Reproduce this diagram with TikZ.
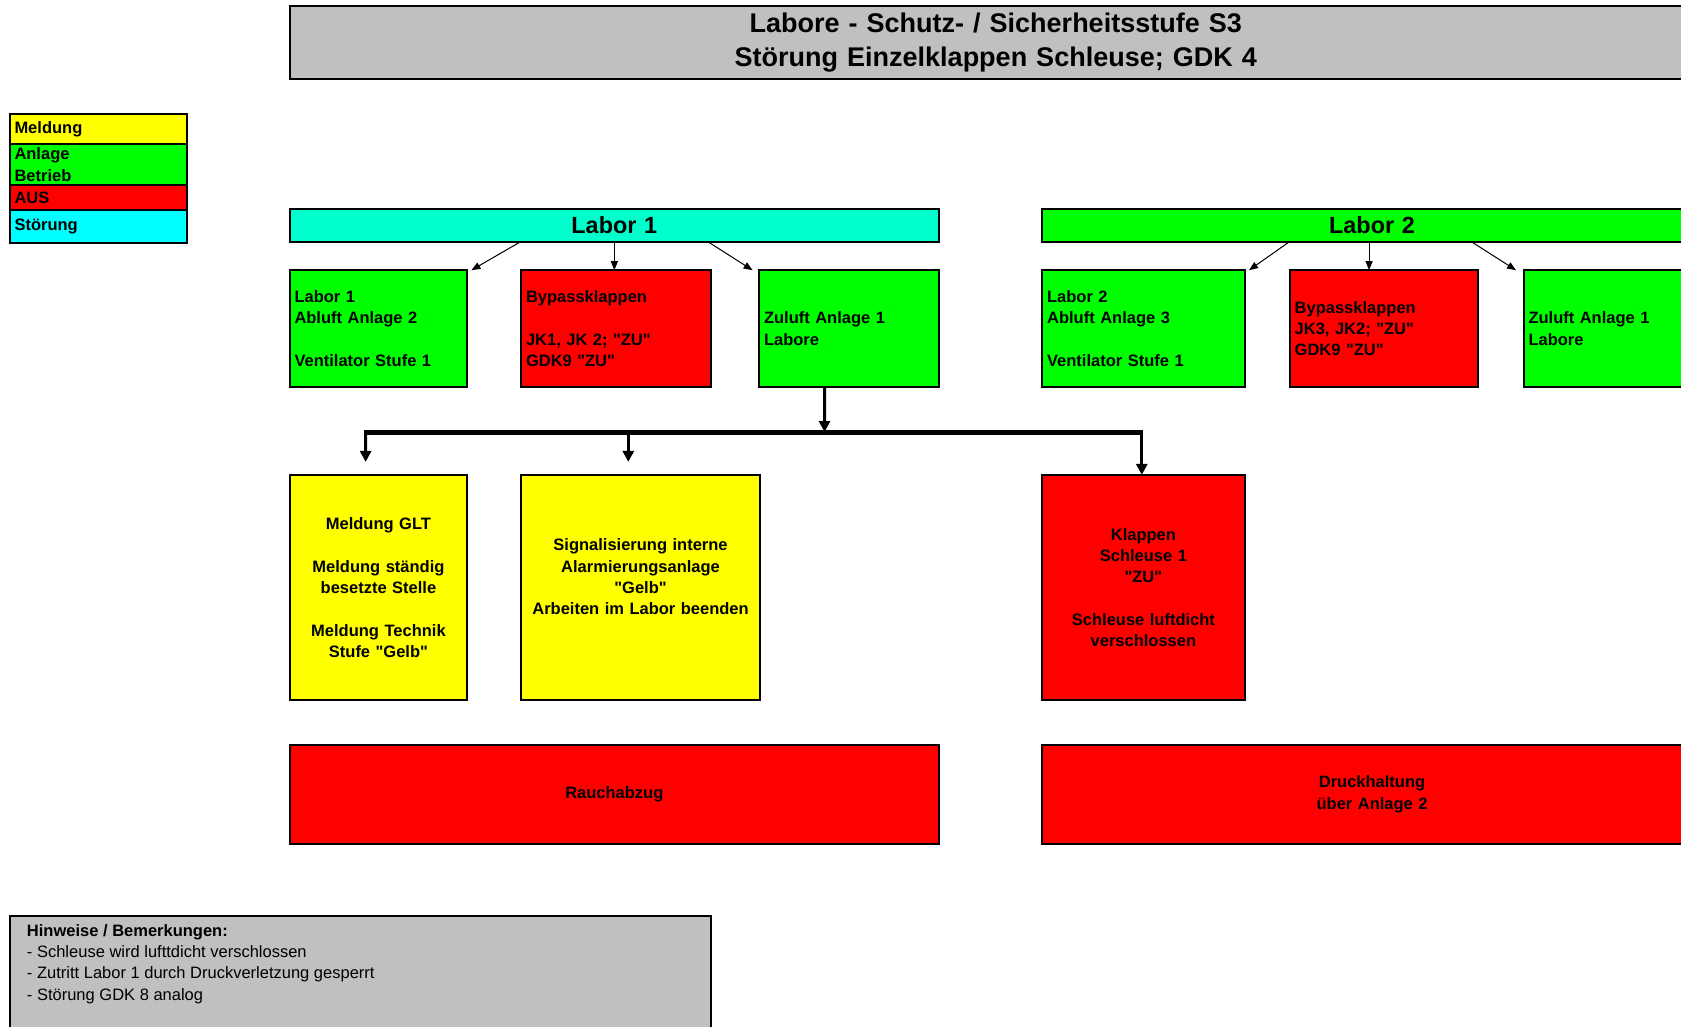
\documentclass[tikz,border=0pt]{standalone}
\usepackage{fontspec}
\setmainfont{Liberation Sans}
\newfontfamily\lsans{Liberation Sans}
\usetikzlibrary{arrows.meta}
\definecolor{cgray}{HTML}{C0C0C0}
\definecolor{cgreen}{HTML}{00FF00}
\definecolor{cred}{HTML}{FF0000}
\definecolor{cyel}{HTML}{FFFF00}
\definecolor{ccyan}{HTML}{00FFFF}
\definecolor{caqua}{HTML}{00FFCC}
\newcommand\fsn{\lsans\fontsize{16.5}{21.3}\selectfont}
% name, x1, y1, x2, y2, style, align, text
\newcommand\mkbox[8]{%
  \pgfmathsetmacro\mybw{#4-#2}%
  \pgfmathsetmacro\mybh{#5-#3}%
  \pgfmathsetmacro\mytw{#4-#2-10}%
  \node[#6, minimum width=\mybw pt, minimum height=\mybh pt, text width=\mytw pt,
        align=#7, inner xsep=5pt, inner ysep=0pt] (#1) at ({(#2+#4)/2},{(#3+#5)/2}) {#8};}
\begin{document}
\begin{tikzpicture}[x=1pt,y=-1pt,
  bxs/.style={draw=black, line width=2pt, font=\fsn\bfseries, text=black, outer sep=0pt},
  fy/.style={bxs, fill=cyel},
  fg/.style={bxs, fill=cgreen},
  fr/.style={bxs, fill=cred},
  fc/.style={bxs, fill=ccyan},
  fa/.style={bxs, fill=caqua},
  fgray/.style={bxs, fill=cgray},
  thinar/.style={line width=1pt, -{Triangle[length=9pt,width=7pt]}},
  thickar/.style={line width=3pt, -{Triangle[length=11pt,width=11pt]}},
  busline/.style={line width=5pt}]
\useasboundingbox (0,0) rectangle (1681,1027);
\clip (0,0) rectangle (1681,1027);

% title
\mkbox{title}{289.5}{6.5}{1702}{79.3}{fgray,font=\lsans\fontsize{27}{34}\selectfont\bfseries}{center}{Labore - Schutz- / Sicherheitsstufe S3\\Störung Einzelklappen Schleuse; GDK 4}

% legend
\mkbox{leg1}{9.5}{114.5}{186.5}{144}{fy}{left}{Meldung}
\mkbox{leg2}{9.5}{144}{186.5}{185.5}{fg}{left}{Anlage\\Betrieb}
\mkbox{leg3}{9.5}{185.5}{186.5}{210}{fr}{left}{AUS}
\mkbox{leg4}{9.5}{210}{186.5}{242.5}{fc}{left}{Störung}

% labor bars
\mkbox{lab1}{289.5}{209.2}{939.2}{241.5}{fa,font=\lsans\fontsize{23.4}{28}\selectfont\bfseries}{center}{Labor 1}
\mkbox{lab2}{1042.1}{209.2}{1702}{241.5}{fg,font=\lsans\fontsize{23.4}{28}\selectfont\bfseries}{center}{Labor 2}

% row 1
\mkbox{ab1}{289.5}{270.2}{467.4}{387}{fg}{left}{Labor 1\\Abluft Anlage 2\\~\\Ventilator Stufe 1}
\mkbox{bp1}{521}{270.2}{710.8}{387}{fr}{left}{Bypassklappen\\~\\JK1, JK 2; "ZU"\\GDK9 "ZU"}
\mkbox{zu1}{759}{270.2}{939.2}{387}{fg}{left}{Zuluft Anlage 1\\Labore}
\mkbox{ab2}{1042.1}{270.2}{1244.7}{387}{fg}{left}{Labor 2\\Abluft Anlage 3\\~\\Ventilator Stufe 1}
\mkbox{bp2}{1289.7}{270.2}{1478.4}{387}{fr}{left}{Bypassklappen\\JK3, JK2; "ZU"\\GDK9 "ZU"}
\mkbox{zu2}{1523.5}{270.2}{1703}{387}{fg}{left}{Zuluft Anlage 1\\Labore}

% row 2
\mkbox{mg}{289.5}{474.9}{467.4}{700.1}{fy}{center}{Meldung GLT\\~\\Meldung ständig\\besetzte Stelle\\~\\Meldung Technik\\Stufe "Gelb"}
\mkbox{sig}{521}{474.9}{760.1}{700.1}{fy}{center}{Signalisierung interne\\Alarmierungsanlage\\"Gelb"\\Arbeiten im Labor beenden\\~}
\mkbox{kl}{1042.1}{474.9}{1244.7}{700.1}{fr}{center}{Klappen\\Schleuse 1\\"ZU"\\~\\Schleuse luftdicht\\verschlossen}

% row 3
\mkbox{rauch}{289.5}{745.1}{939.2}{843.7}{fr}{center}{Rauchabzug}
\mkbox{druck}{1042.1}{745.1}{1702}{843.7}{fr}{center}{Druckhaltung\\über Anlage 2}

% notes
\mkbox{hin}{9.6}{915.6}{710.8}{1045}{fgray}{left}{}
\node[anchor=north west, align=left, font=\fsn, inner sep=0pt] (hintext) at (26.8,924)
  {\textbf{Hinweise / Bemerkungen:}\\- Schleuse wird lufttdicht verschlossen\\- Zutritt Labor 1 durch Druckverletzung gesperrt\\- Störung GDK 8 analog};

% thin arrows
\draw[thinar] ([xshift=-93.4pt]lab1.south) -- ([xshift=4pt]ab1.north east);
\draw[thinar] (lab1.south) -- (lab1.south |- bp1.north);
\draw[thinar] ([xshift=93.2pt]lab1.south) -- ([xshift=-6.4pt]zu1.north west);
\draw[thinar] ([xshift=-82.3pt]lab2.south) -- ([xshift=4.3pt]ab2.north east);
\draw[thinar] ([xshift=-3pt]lab2.south) -- ([xshift=-3pt]lab2.south |- bp2.north);
\draw[thinar] ([xshift=99pt]lab2.south) -- ([xshift=-7.5pt]zu2.north west);

% thick connector
\coordinate (j) at (824.5,432);
\coordinate (bl) at (365.6,432);
\coordinate (bm) at (628.3,432);
\coordinate (br) at (1141.8,432);
\draw[thickar] ([xshift=-24.6pt]zu1.south) -- (j);
\draw[busline] ([xshift=-1.5pt]bl) -- ([xshift=1.5pt]br);
\draw[thickar] (bl) -- ([xshift=-12.8pt,yshift=13pt]mg.north);
\draw[thickar] (bm) -- ([xshift=-12.25pt,yshift=13pt]sig.north);
\draw[thickar] (br) -- (br |- kl.north);
\end{tikzpicture}
\end{document}
